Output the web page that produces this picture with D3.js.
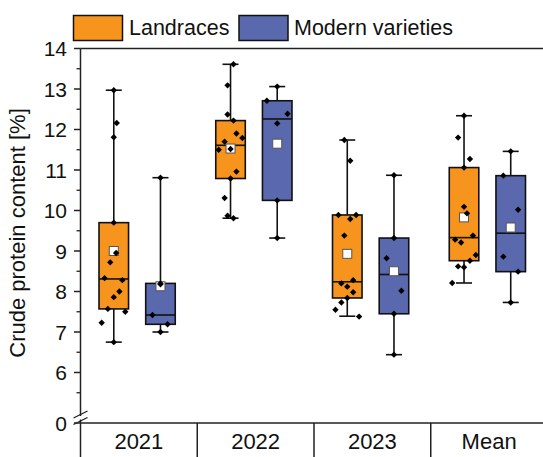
<!DOCTYPE html>
<html><head><meta charset="utf-8">
<script src="https://cdn.jsdelivr.net/npm/d3@7"></script>
<style>body{margin:0;background:#fff}svg{display:block}text{font-family:"Liberation Sans",Arial,sans-serif;fill:#111}</style>
</head><body>
<script>
const categories = ["2021","2022","2023","Mean"];
const groups = ["Landraces","Modern varieties"];
const yTicks = [0,6,7,8,9,10,11,12,13,14];
const yMinor = [5.5,6.5,7.5,8.5,9.5,10.5,11.5,12.5,13.5];

// box statistics per category: [2021, 2022, 2023, Mean]
const landracesWhiskerHigh = [12.97, 13.61, 11.74, 12.34];
const landracesQ3          = [9.70, 12.22, 9.89, 11.06];
const landracesMedian      = [8.31, 11.61, 8.24, 9.33];
const landracesQ1          = [7.57, 10.79, 7.84, 8.76];
const landracesWhiskerLow  = [6.75, 9.81, 7.39, 8.21];
const landracesMean        = [9.00, 11.53, 8.93, 9.83];

const modernWhiskerHigh = [10.81, 13.06, 10.87, 11.46];
const modernQ3          = [8.20, 12.71, 9.32, 10.86];
const modernMedian      = [7.42, 12.26, 8.42, 9.44];
const modernQ1          = [7.19, 10.25, 7.45, 8.49];
const modernWhiskerLow  = [7.00, 9.32, 6.44, 7.73];
const modernMean        = [8.13, 11.65, 8.50, 9.58];

// individual values per category
const landracesValues = [
  [12.97,12.16,11.81,9.70,8.95,8.72,8.33,8.28,8.00,7.86,7.57,7.50,7.23,6.75],
  [13.61,13.09,12.37,12.22,11.90,11.79,11.70,11.50,11.52,10.96,10.79,10.31,9.87,9.81],
  [11.74,11.23,9.89,9.89,9.79,9.38,8.28,8.20,8.12,7.98,7.84,7.73,7.55,7.38],
  [12.34,11.80,11.27,11.06,10.09,9.93,9.38,9.28,9.21,8.90,8.76,8.62,8.60,8.21]
];
// jitter as fraction of box width
const landracesJitter = [
  [0,0.1,0,0,0.08,-0.12,-0.31,0.29,0.19,0,-0.2,0.39,-0.41,0],
  [0.1,-0.1,-0.1,0.1,0.2,0.4,-0.2,-0.4,0,0.2,0,-0.2,-0.1,0.1],
  [-0.1,0.1,-0.3,0.3,0.1,-0.1,0.2,-0.2,0,0.2,0,-0.2,-0.4,0.4],
  [0,-0.2,0.2,0,0,0.1,0.3,-0.3,-0.1,0.4,0.2,-0.2,0,-0.4]
];
const modernValues = [
  [10.81,8.20,8.18,7.42,7.19,7.00],
  [13.06,12.71,12.39,12.15,10.25,9.32],
  [10.87,9.32,8.82,8.02,7.45,6.44],
  [11.46,10.86,10.02,8.86,8.49,7.73]
];
const modernJitter = [
  [0,0,0,-0.27,0.24,0],
  [0,-0.35,0.35,0,0,0],
  [0,0,-0.25,0.25,0,0],
  [0,-0.25,0.25,-0.25,0.25,0]
];
const colors = {"Landraces":"#F7941E","Modern varieties":"#5A69AD"};

const W=543,H=457;
const svg=d3.select("body").append("svg").attr("width",W).attr("height",H);

const x=d3.scaleBand().domain(categories).range([80.5,547.5]).paddingInner(0).paddingOuter(0);
const bw=x.bandwidth();
const xg=d3.scalePoint().domain(groups).range([bw*0.285,bw*0.685]);
const boxW=bw*0.253;
const y=d3.scaleLinear().domain([0,5,14]).range([423,413,48.5]);

const axisColor="#222";
svg.append("line").attr("x1",80.5).attr("x2",W+5).attr("y1",y(14)).attr("y2",y(14)).attr("stroke",axisColor).attr("stroke-width",1.5);
svg.append("line").attr("x1",80.5).attr("x2",W+5).attr("y1",y(0)).attr("y2",y(0)).attr("stroke",axisColor).attr("stroke-width",1.5);
const brk0=416, brk1=419.5;
svg.append("line").attr("x1",80.5).attr("x2",80.5).attr("y1",y(14)).attr("y2",brk0).attr("stroke",axisColor).attr("stroke-width",1.5);
svg.append("line").attr("x1",80.5).attr("x2",80.5).attr("y1",brk1).attr("y2",H).attr("stroke",axisColor).attr("stroke-width",1.5);
[brk0-1.5,brk1+1.5].forEach(b=>{
  svg.append("line").attr("x1",73.5).attr("x2",87.5).attr("y1",b+3.5).attr("y2",b-3.5).attr("stroke",axisColor).attr("stroke-width",1.3);
});
categories.slice(1).forEach(c=>{
  svg.append("line").attr("x1",x(c)).attr("x2",x(c)).attr("y1",y(0)).attr("y2",H).attr("stroke",axisColor).attr("stroke-width",1.5);
});
const yAx=svg.append("g");
yTicks.forEach(t=>{
  yAx.append("line").attr("x1",74).attr("x2",80.5).attr("y1",y(t)).attr("y2",y(t)).attr("stroke",axisColor).attr("stroke-width",1.5);
  yAx.append("text").attr("x",67).attr("y",y(t)).attr("dy","0.36em").attr("text-anchor","end").attr("font-size",21).text(t);
});
yMinor.forEach(t=>{
  yAx.append("line").attr("x1",76.5).attr("x2",80.5).attr("y1",y(t)).attr("y2",y(t)).attr("stroke",axisColor).attr("stroke-width",1.3);
});
svg.append("text").attr("transform","translate(25,233) rotate(-90)").attr("text-anchor","middle").attr("font-size",22).text("Crude protein content [%]");
categories.forEach(c=>{
  svg.append("text").attr("x",x(c)+bw/2).attr("y",449).attr("text-anchor","middle").attr("font-size",22).text(c);
});

const series=[
  {g:"Landraces",hi:landracesWhiskerHigh,q3:landracesQ3,med:landracesMedian,q1:landracesQ1,lo:landracesWhiskerLow,mean:landracesMean,vals:landracesValues,jit:landracesJitter},
  {g:"Modern varieties",hi:modernWhiskerHigh,q3:modernQ3,med:modernMedian,q1:modernQ1,lo:modernWhiskerLow,mean:modernMean,vals:modernValues,jit:modernJitter}
];
const diamond=d3.symbol(d3.symbolDiamond2||d3.symbolDiamond, 26)();
const plot=svg.append("g");
series.forEach(s=>{
  categories.forEach((c,i)=>{
    const cx=x(c)+xg(s.g);
    const g=plot.append("g");
    g.append("line").attr("x1",cx).attr("x2",cx).attr("y1",y(s.hi[i])).attr("y2",y(s.lo[i])).attr("stroke","#111").attr("stroke-width",1.6);
    [s.hi[i],s.lo[i]].forEach(v=>{
      g.append("line").attr("x1",cx-8).attr("x2",cx+8).attr("y1",y(v)).attr("y2",y(v)).attr("stroke","#111").attr("stroke-width",1.6);
    });
    g.append("rect").attr("x",cx-boxW/2).attr("width",boxW).attr("y",y(s.q3[i])).attr("height",y(s.q1[i])-y(s.q3[i]))
      .attr("fill",colors[s.g]).attr("stroke","#111").attr("stroke-width",1.6);
    g.append("line").attr("x1",cx-boxW/2).attr("x2",cx+boxW/2).attr("y1",y(s.med[i])).attr("y2",y(s.med[i])).attr("stroke","#111").attr("stroke-width",1.6);
    g.append("rect").attr("x",cx-4.5).attr("y",y(s.mean[i])-4.5).attr("width",9).attr("height",9).attr("fill","#fff").attr("stroke","#555").attr("stroke-width",1);
    s.vals[i].forEach((v,k)=>{
      const px=cx+s.jit[i][k]*boxW, py=y(v);
      g.append("path").attr("d",diamond).attr("transform",`translate(${px},${py})`).attr("fill","#000");
    });
  });
});

const leg=[{g:"Landraces",x:73.5,tx:129},{g:"Modern varieties",x:239,tx:294}];
leg.forEach(l=>{
  svg.append("rect").attr("x",l.x).attr("y",15.5).attr("width",49).attr("height",25).attr("fill",colors[l.g]).attr("stroke","#111").attr("stroke-width",1.5);
  svg.append("text").attr("x",l.tx).attr("y",35).attr("font-size",21.5).text(l.g);
});
</script>
</body></html>
